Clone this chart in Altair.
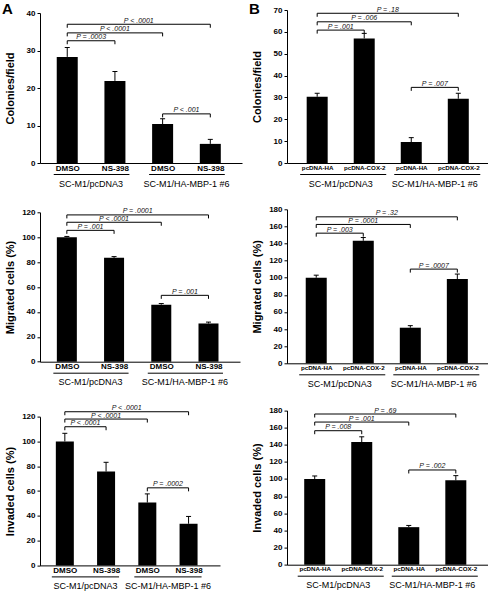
import altair as alt
import pandas as pd

FONT = "Liberation Sans"

# ---- categories -------------------------------------------------------
treatments_ns398 = ["DMSO", "NS-398", "DMSO", "NS-398"]
treatments_cox2 = ["pcDNA-HA", "pcDNA-COX-2", "pcDNA-HA", "pcDNA-COX-2"]
cell_lines = ["SC-M1/pcDNA3", "SC-M1/HA-MBP-1 #6"]
group_first = [0, 2]
group_last = [1, 3]

# ---- means and SEM ----------------------------------------------------
colonies_ns398 = [28.3, 21.9, 10.4, 5.1]
colonies_ns398_sem = [2.5, 2.5, 1.4, 1.2]
colonies_cox2 = [30.3, 57.0, 9.6, 29.4]
colonies_cox2_sem = [1.6, 2.3, 2.0, 2.5]

migrated_ns398 = [100, 83.4, 45.8, 30.7]
migrated_ns398_sem = [0.6, 1.0, 0.9, 1.1]
migrated_cox2 = [100, 143.2, 41.6, 98.4]
migrated_cox2_sem = [3.0, 3.8, 2.4, 5.9]

invaded_ns398 = [100, 75.7, 50.7, 33.6]
invaded_ns398_sem = [6.6, 7.5, 7.0, 5.9]
invaded_cox2 = [100, 143.0, 43.8, 98.4]
invaded_cox2_sem = [3.5, 6.2, 2.0, 5.5]

# ---- pairwise comparisons (bar a vs bar b, bracket level, P value) ----
bracket_a = [0, 0, 0, 2]
bracket_b = [1, 2, 3, 3]
colonies_ns398_lvl = [32.6, 34.7, 37.0, 13.1]
colonies_ns398_p = ["P = .0003", "P < .0001", "P < .0001", "P < .001"]
colonies_cox2_lvl = [60.8, 64.6, 68.5, 34.6]
colonies_cox2_p = ["P = .001", "P = .006", "P = .18", "P = .007"]
migrated_ns398_lvl = [105.5, 112.0, 117.9, 53.3]
migrated_ns398_p = ["P = .001", "P < .0001", "P = .0001", "P = .001"]
migrated_cox2_lvl = [152.1, 162.3, 171.2, 110.1]
migrated_cox2_p = ["P = .003", "P = .0001", "P = .32", "P = .0007"]
invaded_ns398_lvl = [111.9, 118.1, 124.0, 62.6]
invaded_ns398_p = ["P < .0001", "P < .0001", "P < .0001", "P = .0002"]
invaded_cox2_lvl = [156.3, 166.4, 175.8, 110.5]
invaded_cox2_p = ["P = .008", "P = .001", "P = .69", "P = .002"]

# ---- axis ticks --------------------------------------------------------
ticks_colonies_a = [0, 10, 20, 30, 40]
ticks_colonies_b = [0, 10, 20, 30, 40, 50, 60, 70]
ticks_pct_a = [0, 20, 40, 60, 80, 100, 120]
ticks_pct_b = [0, 20, 40, 60, 80, 100, 120, 140, 160, 180]


def panel(means, sems, bar_labels, lvls, pvals, ytitle, yticks, yrange,
          xdomain, width, bar_size, ul_off, xlab_size, letter=None,
          anchor=False):
    height = yrange[0]
    bars = pd.DataFrame({
        "i": list(range(len(means))),
        "mean": means,
        "top": [m + s for m, s in zip(means, sems)],
    })
    brk = pd.DataFrame({"a": bracket_a, "b": bracket_b, "h": lvls, "p": pvals})
    grp = pd.DataFrame({"first": group_first, "last": group_last, "name": cell_lines})

    xs = alt.Scale(domain=xdomain, nice=False, zero=False)
    ys = alt.Scale(domain=[0, yticks[-1]], range=list(yrange), nice=False)
    label_expr = "[" + ",".join("'%s'" % t for t in bar_labels) + "][datum.value]"

    xaxis = alt.Axis(values=[0, 1, 2, 3], labelExpr=label_expr, ticks=False,
                     grid=False, title=None, labelFontSize=xlab_size,
                     labelFontWeight="bold", labelColor="black", labelPadding=1,
                     labelFlush=False, labelOverlap=False,
                     domainColor="black", domainWidth=1)
    yaxis = alt.Axis(values=yticks, title=ytitle, grid=False, tickSize=3,
                     tickColor="black", domainColor="black", domainWidth=1,
                     labelFontSize=8, labelFontWeight="bold",
                     labelColor="black", labelPadding=2, labelFlush=False,
                     titleFontSize=11, titleFontWeight="bold",
                     titleColor="black", titleX=-25,
                     titleY=(yrange[0] + yrange[1]) / 2)

    # every layer shares the same scales and axis definitions
    xq = lambda f: alt.X(f, scale=xs, axis=xaxis)
    yq = lambda f: alt.Y(f, scale=ys, axis=yaxis)

    base = alt.Chart(bars)
    bar = base.mark_bar(size=bar_size, color="black").encode(
        x=xq("i:Q"), y=yq("mean:Q"))
    whisker = base.mark_rule(color="black", strokeWidth=1).encode(
        x=xq("i:Q"), y=yq("mean:Q"), y2="top:Q")
    cap = base.mark_rule(color="black", strokeWidth=1, xOffset=-2.5,
                         x2Offset=2.5).encode(x=xq("i:Q"), x2="i:Q", y=yq("top:Q"))

    bchart = alt.Chart(brk)
    b_line = bchart.mark_rule(color="black", strokeWidth=1).encode(
        x=xq("a:Q"), x2="b:Q", y=yq("h:Q"))
    b_left = bchart.mark_rule(color="black", strokeWidth=1, y2Offset=3.5).encode(
        x=xq("a:Q"), y=yq("h:Q"), y2="h:Q")
    b_right = bchart.mark_rule(color="black", strokeWidth=1, y2Offset=3.5).encode(
        x=xq("b:Q"), y=yq("h:Q"), y2="h:Q")
    b_text = bchart.transform_calculate(mid="(datum.a + datum.b) / 2").mark_text(
        fontSize=7, fontStyle="italic", baseline="alphabetic", dy=-1.5,
        color="#111").encode(x=xq("mid:Q"), y=yq("h:Q"), text="p:N")

    gchart = alt.Chart(grp)
    g_line = gchart.mark_rule(color="black", strokeWidth=1, xOffset=ul_off[0],
                              x2Offset=ul_off[1]).encode(
        x=xq("first:Q"), x2="last:Q", y=alt.value(height + 11.5))
    g_text = gchart.transform_calculate(mid="(datum.first + datum.last) / 2").mark_text(
        fontSize=9, baseline="middle", color="black").encode(
        x=xq("mid:Q"), y=alt.value(height + 20.5), text="name:N")

    layers = [bar, whisker, cap, b_line, b_left, b_right, b_text, g_line, g_text]
    if letter is not None:
        layers.append(alt.Chart(pd.DataFrame({"t": [letter]})).mark_text(
            fontSize=15, fontWeight="bold", align="left", baseline="alphabetic",
            color="black").encode(x=alt.value(-38), y=alt.value(3.5), text="t:N"))
    if anchor:
        layers.append(alt.Chart(pd.DataFrame({"t": [0]})).mark_rule(
            opacity=0).encode(x=alt.value(-40), x2=alt.value(-39),
                              y=alt.value(-10), y2=alt.value(-9)))
    return alt.layer(*layers).properties(width=width, height=height)


a1 = panel(colonies_ns398, colonies_ns398_sem, treatments_ns398,
           colonies_ns398_lvl, colonies_ns398_p, "Colonies/field",
           ticks_colonies_a, (153, 3), [-0.4664, 3.5599], 202, 21,
           (-13.5, 14.5), 8, letter="A", anchor=True)
b1 = panel(colonies_cox2, colonies_cox2_sem, treatments_cox2,
           colonies_cox2_lvl, colonies_cox2_p, "Colonies/field",
           ticks_colonies_b, (153, 0), [-0.5354, 3.5253], 201, 21,
           (-17, 22), 6.2, letter="B")
a2 = panel(migrated_ns398, migrated_ns398_sem, treatments_ns398,
           migrated_ns398_lvl, migrated_ns398_p, "Migrated cells (%)",
           ticks_pct_a, (152.4, 3.0), [-0.4628, 3.5614], 200, 20,
           (-13.5, 14.5), 8)
b2 = panel(migrated_cox2, migrated_cox2_sem, treatments_cox2,
           migrated_cox2_lvl, migrated_cox2_p, "Migrated cells (%)",
           ticks_pct_b, (154, 0), [-0.5152, 3.5455], 201, 21,
           (-17, 22), 6.2)
a3 = panel(invaded_ns398, invaded_ns398_sem, treatments_ns398,
           invaded_ns398_lvl, invaded_ns398_p, "Invaded cells (%)",
           ticks_pct_a, (155.8, 7.1), [-0.4809, 3.641], 180, 18,
           (-13, 13), 8)
b3 = panel(invaded_cox2, invaded_cox2_sem, treatments_cox2,
           invaded_cox2_lvl, invaded_cox2_p, "Invaded cells (%)",
           ticks_pct_b, (155.1, 0.8), [-0.4828, 3.578], 201, 21,
           (-17, 22), 6.2)

chart = alt.concat(a1, b1, a2, b2, a3, b3, columns=2,
                   spacing=alt.RowColnumber(row=46.3, column=45),
                   bounds="flush").properties(
    padding=0
).configure(font=FONT).configure_view(stroke=None)

chart.save("out.html", embed_options={"renderer": "svg", "actions": False})
